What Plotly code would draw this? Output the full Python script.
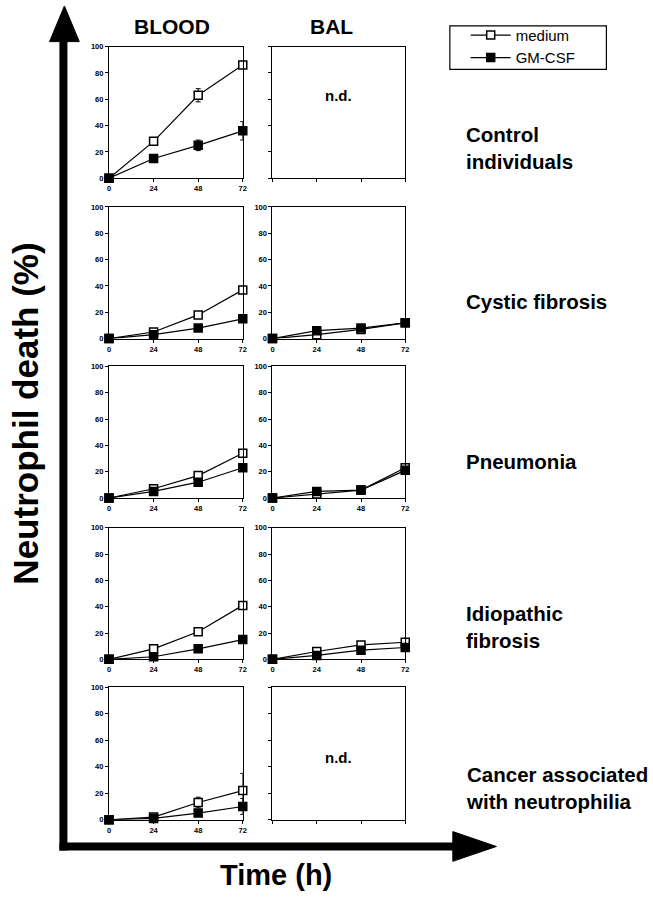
import plotly.graph_objects as go

W, H = 653, 898

times = [0, 24, 48, 72]
y_ticks = [0, 20, 40, 60, 80, 100]
col_titles = ["BLOOD", "BAL"]
group_labels = ["Control<br>individuals", "Cystic fibrosis", "Pneumonia",
                "Idiopathic<br>fibrosis", "Cancer associated<br>with neutrophilia"]
series_names = ["medium", "GM-CSF"]

blood_medium = [[0, 28, 63, 86], [0, 5, 18, 37], [0, 7, 17, 34], [0, 8, 21, 41], [0, 2, 13, 22]]
blood_gmcsf = [[0, 15, 25, 36], [0, 3, 8, 15], [0, 5, 12, 23], [0, 2, 8, 15], [0, 1, 5, 10]]
blood_medium_err = [[0, 1, 5, 2], [0, 0, 0, 0], [0, 0, 0, 0], [0, 0, 0, 0], [0, 0, 4, 13]]
blood_gmcsf_err = [[0, 1, 4, 7], [0, 0, 0, 0], [0, 0, 0, 0], [0, 0, 0, 0], [0, 0, 2, 6]]
bal_medium = [None, [0, 3, 7, 12], [0, 3, 6, 23], [0, 6, 11, 13], None]
bal_gmcsf = [None, [0, 6, 8, 12], [0, 5, 6, 21], [0, 3, 7, 9], None]

FONT = "Liberation Sans, Arial, Helvetica, sans-serif"


def px(x):
    return x / W


def py(y):
    return 1 - y / H


col_px = [(108, 243), (273, 407)]
row_px = [(43, 176), (205, 338), (366, 499), (529, 662), (690, 824)]
nd_level = [63, None, None, None, 47]

fig = go.Figure()
layout_axes = {}

for r in range(5):
    for c in range(2):
        k = r * 2 + c + 1
        xa = "xaxis" if k == 1 else f"xaxis{k}"
        ya = "yaxis" if k == 1 else f"yaxis{k}"
        xr = "x" if k == 1 else f"x{k}"
        yr = "y" if k == 1 else f"y{k}"
        if c == 0:
            med, gm = blood_medium[r], blood_gmcsf[r]
            med_e, gm_e = blood_medium_err[r], blood_gmcsf_err[r]
        else:
            med, gm = bal_medium[r], bal_gmcsf[r]
            med_e, gm_e = None, None
        has_data = med is not None
        if has_data:
            for name, vals, err, fill in [(series_names[0], med, med_e, "white"),
                                          (series_names[1], gm, gm_e, "black")]:
                tr = dict(
                    x=times, y=vals, mode="lines+markers", name=name,
                    legendgroup=name, showlegend=(k == 1),
                    line=dict(color="black", width=1.2),
                    marker=dict(symbol="square", size=8, color=fill,
                                line=dict(color="black", width=1.5)),
                    cliponaxis=False, xaxis=xr, yaxis=yr,
                )
                if err is not None and any(err):
                    tr["error_y"] = dict(type="data", array=err, visible=True,
                                         color="black", thickness=1, width=2.5)
                fig.add_trace(go.Scatter(**tr))
        else:
            fig.add_annotation(x=36, y=nd_level[r], xref=xr, yref=yr, text="n.d.",
                               showarrow=False,
                               font=dict(family=FONT, size=15, color="black", weight="bold"))
        x0, x1 = col_px[c]
        t, b = row_px[r]
        layout_axes[xa] = dict(
            domain=[px(x0), px(x1)], range=[0, 72], anchor=yr,
            tickvals=times, ticks="outside", ticklen=3, tickwidth=1,
            tickcolor="black", showticklabels=has_data,
            showline=True, linecolor="black", linewidth=1.2, mirror=True,
            showgrid=False, zeroline=False, fixedrange=True,
            tickfont=dict(family=FONT, size=7.5, color="black", weight="bold"),
        )
        layout_axes[ya] = dict(
            domain=[py(b), py(t)], range=[0, 100], anchor=xr,
            tickvals=y_ticks, ticks="outside", ticklen=3, tickwidth=1,
            tickcolor="black", showticklabels=has_data,
            showline=True, linecolor="black", linewidth=1.2, mirror=True,
            showgrid=False, zeroline=False, fixedrange=True,
            tickfont=dict(family=FONT, size=7.5, color="black", weight="bold"),
        )

fig.update_layout(**layout_axes)

# Column headers
header_x = [172, 333]
for c, title in enumerate(col_titles):
    fig.add_annotation(x=px(header_x[c]), y=py(23), xref="paper", yref="paper",
                       text=title, showarrow=False, xanchor="center", yanchor="middle",
                       font=dict(family=FONT, size=21, color="black", weight="bold"))

# Row labels
row_label_y = [145, 301, 462, 629, 792]
for r, lab in enumerate(group_labels):
    fig.add_annotation(x=px(466), y=py(row_label_y[r]), xref="paper", yref="paper",
                       text=lab, showarrow=False, xanchor="left", yanchor="middle",
                       align="left",
                       font=dict(family=FONT, size=20.5, color="black", weight="bold"))

# Big axis titles
fig.add_annotation(x=px(24), y=py(414), xref="paper", yref="paper",
                   text="Neutrophil death (%)", showarrow=False, textangle=-90,
                   xanchor="center", yanchor="middle",
                   font=dict(family=FONT, size=35, color="black", weight="bold"))
fig.add_annotation(x=px(277), y=py(880), xref="paper", yref="paper",
                   text="Time (h)", showarrow=False, xanchor="center", yanchor="middle",
                   font=dict(family=FONT, size=29, color="black", weight="bold"))

# Big arrows and legend frame
shapes = [
    dict(type="line", xref="paper", yref="paper", x0=px(62), y0=py(855), x1=px(62), y1=py(34),
         line=dict(color="black", width=8)),
    dict(type="line", xref="paper", yref="paper", x0=px(58), y0=py(851), x1=px(458), y1=py(851),
         line=dict(color="black", width=8)),
    dict(type="path", xref="paper", yref="paper",
         path=f"M{px(63)},{py(2)} L{px(78)},{py(38)} L{px(48)},{py(38)} Z",
         fillcolor="black", line=dict(color="black", width=1)),
    dict(type="path", xref="paper", yref="paper",
         path=f"M{px(499)},{py(851)} L{px(455)},{py(836)} L{px(455)},{py(866)} Z",
         fillcolor="black", line=dict(color="black", width=1)),
    dict(type="rect", xref="paper", yref="paper", x0=px(452), y0=py(22), x1=px(610), y1=py(66),
         line=dict(color="black", width=1.2), fillcolor="rgba(0,0,0,0)"),
]
fig.update_layout(shapes=shapes)

fig.update_layout(
    width=W, height=H,
    margin=dict(l=0, r=0, t=0, b=0),
    paper_bgcolor="white", plot_bgcolor="white",
    showlegend=True,
    legend=dict(x=px(468), y=py(15), xanchor="left", yanchor="top",
                bgcolor="rgba(0,0,0,0)", borderwidth=0, itemwidth=40,
                tracegroupgap=0,
                font=dict(family=FONT, size=15, color="black")),
)

fig.write_html("out.html", config={"displayModeBar": False},
               post_script="document.body.style.margin='0px';")
